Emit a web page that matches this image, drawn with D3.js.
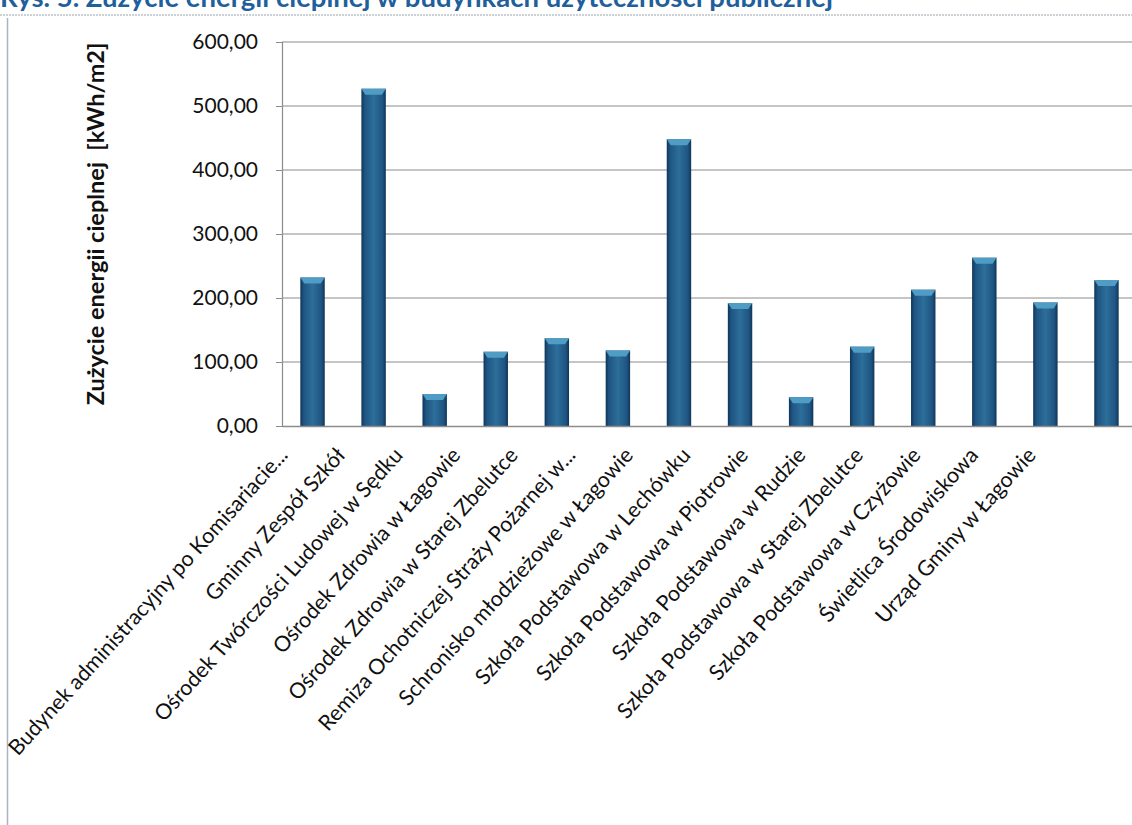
<!DOCTYPE html>
<html>
<head>
<meta charset="utf-8">
<script src="https://cdn.jsdelivr.net/npm/d3@7"></script>
<style>
  body { margin: 0; background: #fff; }
  svg { display: block; font-family: Lato, "Open Sans", sans-serif; }
</style>
</head>
<body>
<svg id="chart" width="1132" height="825"></svg>
<script>
// Chart data
const categories = [
    'Budynek administracyjny po Komisariacie...',
    'Gminny Zespół Szkół',
    'Ośrodek Twórczości Ludowej w Sędku',
    'Ośrodek Zdrowia w Łagowie',
    'Ośrodek Zdrowia w Starej Zbelutce',
    'Remiza Ochotniczej Straży Pożarnej w...',
    'Schronisko młodzieżowe w Łagowie',
    'Szkoła Podstawowa w Lechówku',
    'Szkoła Podstawowa w Piotrowie',
    'Szkoła Podstawowa w Rudzie',
    'Szkoła Podstawowa w Starej Zbelutce',
    'Szkoła Podstawowa w Czyżowie',
    'Świetlica Środowiskowa',
    'Urząd Gminy w Łagowie'
];
const values = [232, 527, 50, 116, 137, 118, 448, 192, 45, 124, 213, 263, 193, 228];
const yTicks = [0, 100, 200, 300, 400, 500, 600];

const title = 'Rys. 5. Zużycie energii cieplnej w budynkach użyteczności publicznej';
const yTitle = 'Zużycie energii cieplnej  [kWh/m2]';

const svg = d3.select('#chart');
const margin = { top: 42, left: 282, right: -5, bottom: 399 };
const width = 1132 - margin.left - margin.right;
const height = 825 - margin.top - margin.bottom;

// Title (partly cut off by the top edge, as in the scan)
svg.append('text')
    .attr('x', 0)
    .attr('y', 7)
    .attr('fill', '#1f5f9c')
    .attr('font-size', 27.5)
    .attr('font-weight', 'bold')
    .text(title);

// Dashed rule under the title and chart frame
svg.append('line')
    .attr('x1', 0).attr('x2', 1132).attr('y1', 15).attr('y2', 15)
    .attr('stroke', '#9aa3ad').attr('stroke-width', 1).attr('stroke-dasharray', '2,1');
svg.append('line')
    .attr('x1', 7.5).attr('x2', 7.5).attr('y1', 18).attr('y2', 825)
    .attr('stroke', '#a8b4c2').attr('stroke-width', 1.5);

// Gradient for bars
const defs = svg.append('defs');
const grad = defs.append('linearGradient').attr('id', 'barGrad')
    .attr('x1', '0%').attr('x2', '100%').attr('y1', '0%').attr('y2', '0%');
[['0%', '#0f3558'], ['14%', '#1f5582'], ['50%', '#2d6e9a'], ['86%', '#1f5582'], ['100%', '#0f3558']]
    .forEach(([o, c]) => grad.append('stop').attr('offset', o).attr('stop-color', c));

const g = svg.append('g').attr('transform', `translate(${margin.left},${margin.top})`);

// Scales
const x = d3.scaleBand().domain(categories).range([0, width]).paddingInner(0.6).paddingOuter(0.3);
const y = d3.scaleLinear().domain([0, 600]).range([height, 0]);
// Category labels sit on a slightly tighter spacing than the bars in the scan
const xLabel = d3.scalePoint().domain(categories).range([289 - margin.left, 1037 - margin.left]);

// Gridlines
g.append('g')
    .selectAll('line')
    .data(yTicks.slice(1))
    .enter()
    .append('line')
    .attr('x1', 0).attr('x2', width)
    .attr('y1', d => y(d)).attr('y2', d => y(d))
    .attr('stroke', '#8c8c8c').attr('stroke-width', 1.2);

// Y axis
const yAxis = g.append('g')
    .call(d3.axisLeft(y).tickValues(yTicks).tickSize(6).tickPadding(18)
        .tickFormat(d => d3.format('.2f')(d).replace('.', ',')));
yAxis.select('.domain').attr('stroke', '#8c8c8c').attr('stroke-width', 1.2);
yAxis.selectAll('.tick line').attr('stroke', '#8c8c8c');
yAxis.selectAll('text')
    .attr('font-family', 'Lato, sans-serif')
    .attr('font-size', 21)
    .attr('fill', '#111');

// Y title
svg.append('text')
    .attr('transform', 'translate(104, 224) rotate(-90)')
    .attr('text-anchor', 'middle')
    .attr('font-size', 23.5)
    .attr('font-weight', 'bold')
    .attr('fill', '#111')
    .style('white-space', 'pre')
    .text(yTitle);

// Bars
const bars = g.selectAll('.bar')
    .data(values)
    .enter()
    .append('g')
    .attr('class', 'bar');

bars.append('rect')
    .attr('x', (d, i) => x(categories[i]))
    .attr('y', d => y(d))
    .attr('width', x.bandwidth())
    .attr('height', d => height - y(d))
    .attr('fill', 'url(#barGrad)');

// Bevelled top cap
bars.append('path')
    .attr('d', (d, i) => {
        const x0 = x(categories[i]), w = x.bandwidth(), t = y(d);
        return `M${x0},${t} L${x0 + w},${t} L${x0 + w - 4},${t + 6} L${x0 + 4},${t + 6} Z`;
    })
    .attr('fill', '#4f9cc4');

// X axis line
const xAxis = g.append('g')
    .attr('transform', `translate(0, ${height})`)
    .call(d3.axisBottom(x).tickSize(0).tickFormat(''));
xAxis.select('.domain').attr('stroke', '#8c8c8c').attr('stroke-width', 1.4);

// Category labels
g.append('g')
    .attr('transform', `translate(0, ${height})`)
    .selectAll('text')
    .data(categories)
    .enter()
    .append('text')
    .attr('transform', d => `translate(${xLabel(d)}, 30) rotate(-48)`)
    .attr('text-anchor', 'end')
    .attr('font-size', 21.5)
    .attr('fill', '#111')
    .text(d => d);
</script>
</body>
</html>
